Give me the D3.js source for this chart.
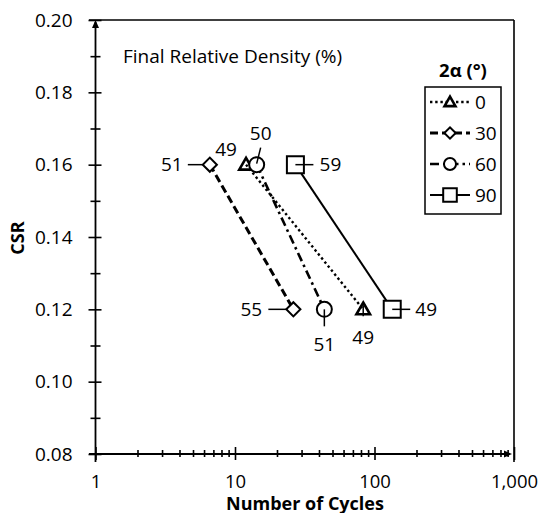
<!DOCTYPE html>
<html>
<head>
<meta charset="utf-8">
<script src="https://cdn.jsdelivr.net/npm/d3@7"></script>
<style>
  html, body { margin: 0; padding: 0; background: #fff; }
  svg { display: block; }
  text { font-family: "Open Sans", sans-serif; fill: #000; }
</style>
</head>
<body>
<svg id="chart" width="542" height="513"></svg>
<script>
// ---- data ----
const angles = ["0", "30", "60", "90"];
const csrLevels = [0.16, 0.12];
const cycles0 = [12.0, 83];
const cycles30 = [6.6, 26.2];
const cycles60 = [14.3, 43.7];
const cycles90 = [27.1, 134];
const density0 = [49, 49];
const density30 = [51, 55];
const density60 = [50, 51];
const density90 = [59, 49];
const xTickLabels = ["1", "10", "100", "1,000"];
const yTickLabels = ["0.08", "0.10", "0.12", "0.14", "0.16", "0.18", "0.20"];

// ---- layout ----
const FONT = "'Open Sans', sans-serif";
const FS = 19;
const FSB = 18;
const svg = d3.select("#chart");
const x = d3.scaleLog().domain([1, 1000]).range([95.5, 514]);
const y = d3.scaleLinear().domain([0.08, 0.20]).range([454, 20]);
const x0 = x.range()[0], x1 = x.range()[1], yB = y.range()[0], yT = y.range()[1];

// series styles
const series = [
  { name: angles[0], cycles: cycles0, dens: density0, shape: "triangle", dash: "2.4,2.8", width: 2.4, mw: 2.6 },
  { name: angles[1], cycles: cycles30, dens: density30, shape: "diamond", dash: "8,4", width: 3, mw: 2 },
  { name: angles[2], cycles: cycles60, dens: density60, shape: "circle", dash: "9,4,2.5,4", width: 2.6, mw: 2 },
  { name: angles[3], cycles: cycles90, dens: density90, shape: "square", dash: null, width: 2, mw: 2 }
];

// label placement for each point: label offset and leader segment
const labelPlacement = {
  "0":  [{ dx: -20, dy: -15, lead: null }, { dx: 0, dy: 28, lead: [0, -4, 0, 7] }],
  "30": [{ dx: -38, dy: 0, lead: [-22, 0, -7, 0] }, { dx: -42, dy: 0, lead: [-25, 0, -7, 0] }],
  "60": [{ dx: 4, dy: -31, lead: [4, -17, 0, -1] }, { dx: 0, dy: 35, lead: [0, 0, 0, 17] }],
  "90": [{ dx: 35, dy: 0, lead: [0, 0, 18, 0] }, { dx: 34, dy: 0, lead: [0, 0, 18, 0] }]
};

function symbolPath(shape, scale) {
  const s = scale || 1;
  if (shape === "triangle") return d3.symbol(d3.symbolTriangle, 80 * s * s)();
  if (shape === "diamond") return d3.symbol(d3.symbolSquare, 100 * s * s)();
  if (shape === "circle") return d3.symbol(d3.symbolCircle, 177 * s * s)();
  return d3.symbol(d3.symbolSquare, 289 * s * s)();
}

// ---- frame ----
svg.append("line").attr("x1", 89).attr("x2", x1).attr("y1", yT).attr("y2", yT)
  .attr("stroke", "#000").attr("stroke-width", 1.6);
svg.append("line").attr("x1", x1).attr("x2", x1).attr("y1", yT).attr("y2", 462)
  .attr("stroke", "#000").attr("stroke-width", 1.6);

// ---- y axis ----
const yMajor = d3.range(0, 7).map(i => +(0.08 + i * 0.02).toFixed(2));
const yMinor = d3.range(0, 6).map(i => +(0.09 + i * 0.02).toFixed(2));
const yAxis = svg.append("g").attr("transform", `translate(${x0},0)`)
  .call(d3.axisLeft(y).tickValues(yMajor).tickSize(7).tickPadding(16)
    .tickFormat((d, i) => yTickLabels[i]));
yAxis.select(".domain").remove();
yAxis.selectAll(".tick line").attr("x1", 6).attr("stroke", "#000").attr("stroke-width", 1.6);
yAxis.selectAll(".tick text").attr("font-size", FS).attr("font-family", FONT).attr("fill", "#000");
const yAxisMinor = svg.append("g").attr("transform", `translate(${x0},0)`)
  .call(d3.axisLeft(y).tickValues(yMinor).tickSize(5).tickFormat(""));
yAxisMinor.select(".domain").remove();
yAxisMinor.selectAll(".tick line").attr("x1", 5).attr("stroke", "#000").attr("stroke-width", 1.6);
svg.append("line").attr("x1", x0).attr("x2", x0).attr("y1", yT + 2).attr("y2", 462)
  .attr("stroke", "#000").attr("stroke-width", 1.8);
svg.append("path").attr("d", `M${x0},${yT} L${x0 - 3.5},${yT + 8} L${x0 + 3.5},${yT + 8} Z`).attr("fill", "#000");

// ---- x axis ----
const xMajor = [1, 10, 100, 1000];
const xMinor = [];
[1, 10, 100].forEach(dec => d3.range(2, 10).forEach(k => xMinor.push(dec * k)));
const xAxis = svg.append("g").attr("transform", `translate(0,${yB})`)
  .call(d3.axisBottom(x).tickValues(xMajor).tickSize(6).tickPadding(15)
    .tickFormat((d, i) => xTickLabels[i]));
xAxis.select(".domain").remove();
xAxis.selectAll(".tick line").attr("y1", -7).attr("stroke", "#000").attr("stroke-width", 1.6);
xAxis.selectAll(".tick text").attr("font-size", 18.5).attr("font-family", FONT).attr("fill", "#000");
const xAxisMinor = svg.append("g").attr("transform", `translate(0,${yB})`)
  .call(d3.axisBottom(x).tickValues(xMinor).tickSize(3).tickFormat(""));
xAxisMinor.select(".domain").remove();
xAxisMinor.selectAll(".tick line").attr("y1", -4).attr("stroke", "#000").attr("stroke-width", 1.6);
svg.append("line").attr("x1", 89).attr("x2", x1 - 4).attr("y1", yB).attr("y2", yB)
  .attr("stroke", "#000").attr("stroke-width", 1.8);
svg.append("path").attr("d", `M${x1 - 2},${yB} L${x1 - 10},${yB - 3.5} L${x1 - 10},${yB + 3.5} Z`).attr("fill", "#000");

// ---- axis titles ----
svg.append("text").attr("x", 305).attr("y", 509.5).attr("text-anchor", "middle")
  .attr("font-size", FSB).attr("font-weight", "bold").text("Number of Cycles");
svg.append("text").attr("transform", "translate(24,238) rotate(-90)").attr("text-anchor", "middle")
  .attr("font-size", FSB).attr("font-weight", "bold").text("CSR");

// ---- annotation ----
svg.append("text").attr("x", 123).attr("y", 63).attr("font-size", FS).text("Final Relative Density (%)");

// ---- series lines ----
const line = d3.line().x(d => x(d[0])).y(d => y(d[1]));
series.forEach(s => {
  const pts = s.cycles.map((c, i) => [c, csrLevels[i]]);
  svg.append("path").attr("d", line(pts)).attr("fill", "none").attr("stroke", "#000")
    .attr("stroke-width", s.width).attr("stroke-dasharray", s.dash);
});

// ---- markers ----
series.forEach(s => {
  s.cycles.forEach((c, i) => {
    const cx = x(c), cy = y(csrLevels[i]);
    const rot = s.shape === "diamond" ? " rotate(45)" : "";
    svg.append("path").attr("d", symbolPath(s.shape))
      .attr("transform", `translate(${cx},${cy + (s.shape === "triangle" ? 1 : 0)})${rot}`)
      .attr("fill", s.shape === "triangle" ? "none" : "#fff").attr("stroke", "#000").attr("stroke-width", s.mw);
  });
});

// ---- data labels with leader lines ----
series.forEach(s => {
  s.cycles.forEach((c, i) => {
    const cx = x(c), cy = y(csrLevels[i]);
    const p = labelPlacement[s.name][i];
    if (p.lead) {
      svg.append("line").attr("x1", cx + p.lead[0]).attr("y1", cy + p.lead[1])
        .attr("x2", cx + p.lead[2]).attr("y2", cy + p.lead[3]).attr("stroke", "#000").attr("stroke-width", 1.5);
    }
    svg.append("text").attr("x", cx + p.dx).attr("y", cy + p.dy).attr("dy", "0.35em")
      .attr("text-anchor", "middle").attr("font-size", FS).text(s.dens[i]);
  });
});

// ---- legend ----
svg.append("text").attr("x", 463).attr("y", 77).attr("text-anchor", "middle")
  .attr("font-size", 18.5).attr("font-weight", "bold").text("2α (°)");
svg.append("rect").attr("x", 425).attr("y", 87).attr("width", 76).attr("height", 127)
  .attr("fill", "#fff").attr("stroke", "#000").attr("stroke-width", 1.5);
const legendY = d3.scalePoint().domain(angles).range([102, 195]);
series.forEach(s => {
  const ly = legendY(s.name);
  svg.append("line").attr("x1", 430).attr("x2", 470).attr("y1", ly).attr("y2", ly)
    .attr("stroke", "#000").attr("stroke-width", s.width).attr("stroke-dasharray", s.dash);
  const rot = s.shape === "diamond" ? " rotate(45)" : "";
  svg.append("path").attr("d", symbolPath(s.shape, 0.8))
    .attr("transform", `translate(450,${ly + (s.shape === "triangle" ? 1 : 0)})${rot}`)
    .attr("fill", "#fff").attr("stroke", "#000").attr("stroke-width", s.mw);
  svg.append("text").attr("x", 475).attr("y", ly).attr("dy", "0.35em")
    .attr("font-size", FS).text(s.name);
});
</script>
</body>
</html>
